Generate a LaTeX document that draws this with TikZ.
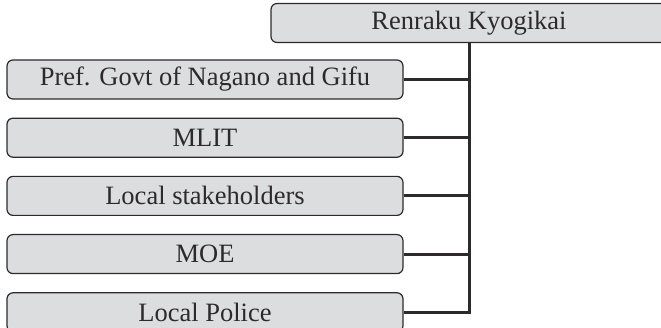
\documentclass[tikz,border=0pt]{standalone}
\usepackage{fontspec}
\setmainfont{Liberation Serif}
\usetikzlibrary{positioning}
\definecolor{boxgray}{RGB}{220,221,223}
\definecolor{inkgray}{RGB}{45,42,43}
\tikzstyle{member} = [rectangle, rounded corners=6pt, text centered, draw=inkgray, fill=boxgray, line width=1.2pt, minimum width=396pt, minimum height=39pt, inner sep=0pt, text=inkgray, font=\fontsize{26.5}{30}\selectfont]
\tikzstyle{link} = [line width=3pt, inkgray, line join=miter]

\begin{document}
\begin{tikzpicture}[x=1pt, y=-1pt]

    % page border, the top box runs off the right edge
    \useasboundingbox (0,0) rectangle (661,328);
    \clip (0,0) rectangle (661,328);

    \node (council) [member] at (469, 23) {Renraku Kyogikai};

    \node (pref) [member] at (205, 79.5) {Pref. Govt of Nagano and Gifu};
    \node (mlit) [member, below=18pt of pref] {MLIT};
    \node (local) [member, below=18pt of mlit] {Local stakeholders};
    \node (moe) [member, below=18pt of local] {MOE};
    \node (police) [member, below=18pt of moe] {Local Police};

    \draw [link] (council.south) |- (police.east);
    \draw [link] (pref.east) -- (pref.east -| council.south);
    \draw [link] (mlit.east) -- (mlit.east -| council.south);
    \draw [link] (local.east) -- (local.east -| council.south);
    \draw [link] (moe.east) -- (moe.east -| council.south);

\end{tikzpicture}
\end{document}
